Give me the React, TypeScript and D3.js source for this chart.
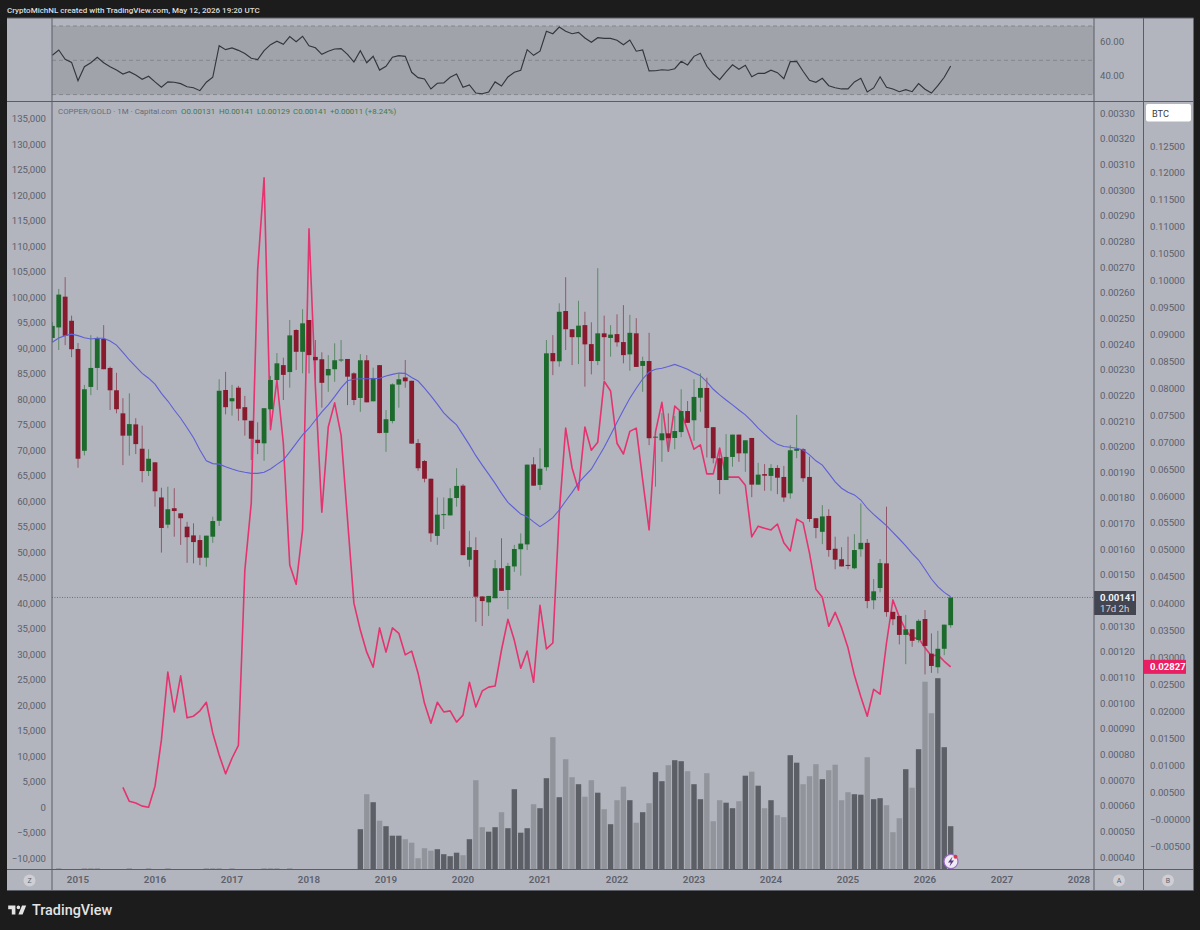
import * as d3 from "d3";

// Monthly bars, first one is Sep 2014 (month -4), month 0 is Jan 2015
const firstMonth = -4;

// COPPER/GOLD, ratio x 1e6
const open = [
  2424, 2465, 2585, 2491,
  2381, 1984, 2233, 2307, 2420, 2307, 2220, 2130, 2043, 2087, 1992, 1905,
  1939, 1802, 1696, 1760, 1740, 1688, 1654, 1636, 1567, 1649, 1711, 2221,
  2177, 2230, 2154, 2101, 2027, 2013, 2146, 2260, 2318, 2291, 2455, 2370,
  2494, 2350, 2341, 2278, 2302, 2336, 2342, 2286, 2190, 2337, 2177, 2318,
  2054, 2100, 2242, 2270, 2257, 2014, 1944, 1875, 1652, 1733, 1732, 1800,
  1848, 1559, 1597, 1416, 1393, 1409, 1526, 1441, 1533, 1600, 1619, 1931,
  1851, 1920, 2365, 2333, 2529, 2458, 2427, 2474, 2400, 2334, 2442, 2424,
  2439, 2408, 2360, 2442, 2315, 2334, 2035, 2025, 2052, 2034, 2057, 2139,
  2103, 2191, 2229, 2076, 1955, 1870, 1960, 2047, 1974, 2034, 1852, 1893,
  1886, 1917, 1882, 1818, 1984, 1990, 1882, 1721, 1668, 1730, 1602, 1561,
  1539, 1526, 1600, 1625, 1401, 1449, 1545, 1356, 1340, 1266, 1288, 1246,
  1328, 1193, 1140, 1212, 1304,
];
const close = [
  2471, 2593, 2432, 2380,
  1953, 2224, 2307, 2423, 2302, 2220, 2146, 2043, 2088, 2010, 1905, 1953,
  1826, 1683, 1756, 1749, 1721, 1647, 1628, 1567, 1653, 1710, 2218, 2154,
  2189, 2148, 2103, 2031, 2014, 2150, 2260, 2325, 2280, 2434, 2370, 2481,
  2357, 2337, 2249, 2303, 2337, 2340, 2273, 2182, 2337, 2173, 2268, 2053,
  2107, 2243, 2263, 2255, 2012, 1916, 1875, 1662, 1735, 1737, 1799, 1847,
  1577, 1608, 1415, 1398, 1418, 1526, 1438, 1535, 1601, 1622, 1930, 1848,
  1914, 2364, 2333, 2526, 2458, 2427, 2472, 2399, 2334, 2442, 2427, 2437,
  2407, 2357, 2444, 2311, 2334, 2033, 2039, 2052, 2033, 2061, 2139, 2093,
  2194, 2229, 2073, 1955, 1870, 1960, 2047, 1974, 2025, 1852, 1891, 1887,
  1917, 1879, 1802, 1986, 1992, 1877, 1718, 1683, 1728, 1597, 1559, 1533,
  1535, 1597, 1625, 1398, 1436, 1546, 1355, 1327, 1266, 1288, 1243, 1321,
  1223, 1145, 1212, 1306, 1412,
];
const high = [
  2486, 2615, 2661, 2511,
  2404, 2241, 2435, 2429, 2474, 2312, 2288, 2189, 2208, 2111, 2082, 1990,
  1939, 1840, 1844, 1838, 1740, 1707, 1701, 1655, 1653, 1727, 2263, 2292,
  2241, 2237, 2198, 2101, 2095, 2150, 2276, 2365, 2347, 2494, 2458, 2536,
  2494, 2416, 2368, 2357, 2403, 2416, 2342, 2290, 2361, 2357, 2308, 2318,
  2143, 2247, 2286, 2338, 2257, 2030, 1948, 1875, 1802, 1802, 1838, 1916,
  1854, 1672, 1647, 1416, 1418, 1558, 1643, 1547, 1617, 1662, 1930, 1959,
  1994, 2416, 2435, 2559, 2661, 2458, 2569, 2526, 2485, 2696, 2511, 2474,
  2516, 2552, 2514, 2501, 2351, 2444, 2046, 2131, 2130, 2120, 2224, 2178,
  2263, 2286, 2269, 2076, 1994, 2049, 2047, 2047, 2025, 2034, 1937, 1932,
  1932, 1928, 1925, 2007, 2124, 1994, 1961, 1721, 1772, 1756, 1649, 1608,
  1649, 1659, 1779, 1640, 1484, 1562, 1766, 1356, 1340, 1344, 1288, 1327,
  1363, 1272, 1282, 1306, 1412,
];
const low = [
  2408, 2377, 2396, 2349,
  1918, 1966, 2201, 2221, 2302, 2143, 2130, 1928, 1965, 1971, 1861, 1886,
  1766, 1587, 1682, 1649, 1617, 1547, 1545, 1538, 1532, 1625, 1691, 2126,
  2121, 2101, 2043, 1948, 1971, 1945, 2146, 2260, 2182, 2230, 2299, 2286,
  2286, 2260, 2152, 2214, 2253, 2330, 2162, 2162, 2136, 2173, 2177, 2052,
  1980, 2091, 2152, 2230, 2012, 1906, 1861, 1629, 1617, 1679, 1732, 1766,
  1577, 1532, 1317, 1301, 1340, 1409, 1438, 1366, 1512, 1497, 1597, 1848,
  1831, 1906, 2279, 2312, 2377, 2318, 2322, 2234, 2282, 2318, 2260, 2351,
  2390, 2325, 2296, 2311, 2214, 2006, 1844, 1941, 1984, 1990, 2037, 2093,
  2023, 2136, 1958, 1935, 1815, 1870, 1922, 1941, 1902, 1803, 1852, 1828,
  1828, 1815, 1785, 1797, 1955, 1863, 1707, 1643, 1620, 1571, 1522, 1533,
  1522, 1522, 1571, 1370, 1366, 1432, 1337, 1304, 1229, 1152, 1220, 1236,
  1112, 1118, 1116, 1187, 1294,
];

// moving average on the copper/gold scale
const movingAvg = [
  2407, 2424, 2433, 2439,
  2433, 2425, 2420, 2423, 2423, 2412, 2396, 2368, 2338, 2312, 2286, 2267,
  2244, 2208, 2178, 2143, 2111, 2074, 2035, 1987, 1945, 1934, 1932, 1922,
  1913, 1905, 1900, 1896, 1896, 1900, 1913, 1931, 1948, 1980, 2013, 2046,
  2072, 2104, 2136, 2163, 2195, 2229, 2257, 2263, 2265, 2265, 2265, 2267,
  2276, 2282, 2287, 2286, 2270, 2256, 2228, 2198, 2166, 2132, 2107, 2085,
  2046, 2007, 1965, 1928, 1893, 1857, 1818, 1783, 1760, 1737, 1727, 1707,
  1688, 1705, 1723, 1753, 1788, 1822, 1859, 1886, 1912, 1955, 1998, 2046,
  2095, 2143, 2189, 2228, 2264, 2291, 2302, 2306, 2313, 2321, 2312, 2302,
  2288, 2277, 2253, 2224, 2202, 2182, 2163, 2143, 2124, 2100, 2072, 2049,
  2026, 2009, 2001, 1998, 1994, 1987, 1968, 1945, 1928, 1896, 1863, 1838,
  1822, 1812, 1792, 1760, 1736, 1714, 1692, 1666, 1640, 1613, 1584, 1558,
  1522, 1484, 1454, 1432, 1415,
];

// BTC overlay, starts Aug 2015
const btcStartMonth = 7;
const btc = [
  0.0059, 0.0033, 0.003, 0.0024, 0.0022,
  0.0061, 0.0147, 0.0273, 0.0199, 0.0266, 0.0188, 0.0191, 0.0201, 0.0217, 0.016, 0.0119, 0.0084,
  0.0113, 0.0137, 0.0462, 0.0587, 0.102, 0.1191, 0.0723, 0.0815, 0.0698, 0.0472, 0.0436, 0.0537,
  0.1096, 0.0802, 0.057, 0.0728, 0.0773, 0.0713, 0.0557, 0.0401, 0.0351, 0.031, 0.0282, 0.0355,
  0.031, 0.0355, 0.0345, 0.0305, 0.0312, 0.0271, 0.0215, 0.0178, 0.0217, 0.0199, 0.0201, 0.018,
  0.0193, 0.0254, 0.0208, 0.0238, 0.0245, 0.0247, 0.0314, 0.0371, 0.0332, 0.028, 0.0312, 0.0254,
  0.0397, 0.0316, 0.0327, 0.0568, 0.0726, 0.0652, 0.0611, 0.0728, 0.0685, 0.07, 0.0813, 0.0795,
  0.0698, 0.0678, 0.072, 0.0726, 0.063, 0.0537, 0.0719, 0.0774, 0.0683, 0.0767, 0.0756, 0.0722,
  0.0687, 0.0695, 0.0641, 0.0641, 0.0689, 0.0635, 0.0635, 0.0635, 0.062, 0.0524, 0.0544, 0.054,
  0.0537, 0.0548, 0.0513, 0.0498, 0.0557, 0.055, 0.0494, 0.0427, 0.0412, 0.0358, 0.0384, 0.0355,
  0.0318, 0.0267, 0.0227, 0.0191, 0.0241, 0.0232, 0.0327, 0.0407, 0.0375, 0.0351, 0.0336, 0.0336,
  0.0318, 0.0303, 0.0305, 0.0293, 0.02827,
];

const rsi = [
  52.9, 56.0, 50.6, 48.8,
  38.1, 46.3, 48.6, 51.8, 48.6, 46.3, 44.3, 42.0, 43.4, 41.4, 38.9, 40.7,
  37.4, 34.3, 37.4, 37.2, 36.4, 34.6, 34.0, 32.3, 37.2, 40.1, 58.5, 56.2,
  57.2, 55.8, 53.9, 51.2, 50.4, 55.6, 59.1, 61.1, 59.3, 63.8, 60.8, 64.0,
  58.5, 57.3, 53.5, 55.3, 56.6, 56.8, 53.5, 49.0, 55.6, 48.6, 52.3, 44.3,
  46.5, 51.8, 52.7, 52.3, 43.0, 39.9, 39.1, 33.3, 36.6, 36.8, 40.1, 42.0,
  34.3, 35.6, 30.9, 30.5, 31.5, 37.4, 35.0, 40.3, 43.0, 44.2, 56.2, 52.9,
  55.3, 66.9, 65.5, 69.4, 66.9, 65.5, 66.3, 63.0, 60.5, 63.2, 62.8, 62.8,
  61.7, 59.1, 61.8, 55.3, 56.0, 43.8, 43.9, 44.5, 44.2, 45.1, 49.4, 47.3,
  52.3, 54.1, 46.5, 42.0, 38.7, 43.2, 47.4, 44.8, 47.1, 40.4, 42.4, 42.4,
  44.2, 42.8, 39.3, 49.2, 49.4, 43.6, 38.3, 37.2, 39.5, 35.2, 34.0, 33.3,
  33.3, 37.4, 39.5, 31.5, 33.9, 40.4, 34.3, 33.3, 31.7, 32.9, 31.7, 36.4,
  33.1, 30.9, 35.2, 40.1, 46.7,
];

// volume in arbitrary units, no axis on the chart
const volume = [
  0, 2, 0, 0,
  0, 2, 2, 2, 0, 0, 0, 0, 2, 0, 0, 2,
  0, 0, 2, 0, 0, 0, 0, 0, 2, 2, 2, 0,
  2, 0, 0, 0, 0, 2, 2, 2, 0, 2, 0, 0,
  0, 0, 0, 0, 0, 0, 0, 0, 81, 151, 135, 98,
  87, 68, 68, 61, 54, 23, 43, 38, 41, 31, 27, 34,
  29, 61, 179, 85, 76, 85, 115, 83, 161, 74, 83, 131,
  123, 183, 265, 145, 221, 185, 171, 146, 179, 154, 121, 91,
  139, 166, 139, 94, 115, 133, 195, 177, 209, 219, 217, 197,
  171, 141, 193, 97, 139, 134, 123, 137, 188, 196, 168, 123,
  139, 109, 105, 229, 214, 171, 187, 211, 181, 199, 210, 139,
  155, 151, 150, 225, 141, 143, 129, 75, 103, 201, 164, 241,
  376, 313, 383, 245, 87,
];

const leftTicks = d3.range(135000, -10001, -5000);
// 1400 sits under the last price tag, the reference does not show it
const cgTicks = d3.range(3300, 399, -100).filter((t) => t !== 1400);
const btcTicks = d3.range(0.125, -0.0051, -0.005);
const rsiTicks = [60, 40];
const rsiBands = [70, 50, 30];
const years = [2015, 2016, 2017, 2018, 2019, 2020, 2021, 2022, 2023, 2024, 2025, 2026, 2027, 2028];
const legendOhlc = ["O0.00131", "H0.00141", "L0.00129", "C0.00141", "+0.00011 (+8.24%)"];
const legendOhlcX = [181, 219, 257, 293, 330];

const lastClose = 1412;
const lastBtc = 0.02827;

const width = 1200;
const height = 930;
const font = "Roboto, sans-serif";
const axisColor = "#5d606b";
const borderColor = "#5a5d66";
const paneBg = "#b2b5be";

const pane = { left: 52, right: 1094, top: 102, bottom: 869 };

const x = d3.scaleLinear().domain([0, 156]).range([78, 1079]);
const yCg = d3.scaleLinear().domain([3300, 400]).range([113.3, 857]);
const yLeft = d3.scaleLinear().domain([135000, -10000]).range([118.5, 858]);
const yBtc = d3.scaleLinear().domain([0.125, -0.005]).range([146, 846]);
const yRsi = d3.scaleLinear().domain([70, 30]).range([26, 94.6]);
const yVol = d3.scaleLinear().domain([0, 384]).range([869.7, 677.7]);

const monthOf = (i: number) => i + firstMonth;

const maLine = d3
  .line<number>()
  .x((_, i) => x(monthOf(i)))
  .y((d) => yCg(d));
const btcLine = d3
  .line<number>()
  .x((_, i) => x(btcStartMonth + i))
  .y((d) => yBtc(d));
const rsiLine = d3
  .line<number>()
  .x((_, i) => x(monthOf(i)))
  .y((d) => yRsi(d));

const fmtLeft = (v: number) => (v < 0 ? "\u2212" : "") + d3.format(",")(Math.abs(v));
const fmtCg = (v: number) => (v / 1e6).toFixed(5);
const fmtBtc = (v: number) => (Math.abs(v) < 1e-6 ? "\u22120.00000" : v < 0 ? "\u2212" + Math.abs(v).toFixed(5) : v.toFixed(5));

const candleWidth = 4.8;
const barWidth = 5.4;

export default function App() {
  return (
    <svg
      width={width}
      height={height}
      viewBox={`0 0 ${width} ${height}`}
      style={{ position: "fixed", left: 0, top: 0, display: "block" }}
      fontFamily={font}
    >
      <defs>
        <clipPath id="mainClip">
          <rect x={pane.left} y={pane.top} width={pane.right - pane.left} height={pane.bottom - pane.top + 1} />
        </clipPath>
        <clipPath id="rsiClip">
          <rect x={pane.left} y={18} width={pane.right - pane.left} height={83} />
        </clipPath>
      </defs>

      <rect width={width} height={height} fill="#1c1c1c" />
      <text x={7} y={12.5} fontSize={8} fill="#dcdcdc" fontWeight={500}>
        CryptoMichNL created with TradingView.com, May 12, 2026 19:20 UTC
      </text>

      {/* chart panel */}
      <rect x={7} y={18} width={1186.5} height={872.5} fill={paneBg} />

      {/* RSI pane */}
      <rect x={pane.left} y={yRsi(70)} width={pane.right - pane.left} height={yRsi(30) - yRsi(70)} fill="#a1a3ab" />
      {rsiBands.map((b) => (
        <line key={b} x1={pane.left} x2={pane.right} y1={yRsi(b)} y2={yRsi(b)} stroke="#84868e" strokeDasharray="4 3" />
      ))}
      <path d={rsiLine(rsi) ?? ""} fill="none" stroke="#34363e" strokeWidth={1.15} clipPath="url(#rsiClip)" />
      {rsiTicks.map((t) => (
        <text key={t} x={1100} y={yRsi(t) + 2} fontSize={9.6} fill={axisColor}>
          {t.toFixed(2)}
        </text>
      ))}

      {/* main pane */}
      <g clipPath="url(#mainClip)">
        <line x1={pane.left} x2={pane.right} y1={yCg(lastClose)} y2={yCg(lastClose)} stroke="#5d606b" strokeWidth={0.8} strokeDasharray="1 1.5" />
        {volume.map((v, i) => (
          <rect
            key={i}
            x={x(monthOf(i)) - barWidth / 2}
            y={yVol(v)}
            width={barWidth}
            height={yVol(0) - yVol(v)}
            fill={close[i] >= open[i] ? "#5d5f67" : "#92949c"}
          />
        ))}
        <path d={btcLine(btc) ?? ""} fill="none" stroke="#e5336f" strokeWidth={1.6} strokeLinejoin="round" />
        {open.map((o, i) => {
          const up = close[i] >= o;
          const cx = x(monthOf(i));
          const top = yCg(Math.max(o, close[i]));
          const bottom = yCg(Math.min(o, close[i]));
          return (
            <g key={i}>
              <line x1={cx} x2={cx} y1={yCg(high[i])} y2={yCg(low[i])} stroke={up ? "#5c8a68" : "#92586a"} strokeWidth={1} />
              <rect x={cx - candleWidth / 2} y={top} width={candleWidth} height={Math.max(bottom - top, 1)} fill={up ? "#1c6a2c" : "#891a2e"} />
            </g>
          );
        })}
        <path d={maLine(movingAvg) ?? ""} fill="none" stroke="#5f5fd6" strokeWidth={1.1} />
      </g>

      {/* legend */}
      <text x={58} y={114} fontSize={7.9} fill="#696c77">
        COPPER/GOLD · 1M · Capital.com
      </text>
      {legendOhlc.map((t, i) => (
        <text key={t} x={legendOhlcX[i]} y={114} fontSize={7.9} fill="#3f7a4c">
          {t}
        </text>
      ))}

      {/* left axis */}
      {leftTicks.map((t) => (
        <text key={t} x={46} y={yLeft(t) + 3.5} fontSize={9.6} fill={axisColor} textAnchor="end">
          {fmtLeft(t)}
        </text>
      ))}

      {/* copper/gold axis */}
      {cgTicks.map((t) => (
        <text key={t} x={1100} y={yCg(t) + 3.5} fontSize={9.6} fill={axisColor}>
          {fmtCg(t)}
        </text>
      ))}
      <rect x={1094} y={591} width={42} height={24} fill="#434651" />
      <text x={1100} y={601} fontSize={9.6} fontWeight={700} fill="#f2f3f5">
        0.00141
      </text>
      <text x={1100} y={612} fontSize={9.6} fill="#d1d4dc">
        17d 2h
      </text>

      {/* BTC axis */}
      {btcTicks.map((t) => (
        <text key={t} x={1150} y={yBtc(t) + 3.5} fontSize={9.6} fill={axisColor}>
          {fmtBtc(t)}
        </text>
      ))}
      <rect x={1144} y={yBtc(lastBtc) - 7} width={42} height={14} fill="#e91e63" />
      <text x={1150} y={yBtc(lastBtc) + 3.5} fontSize={9.6} fontWeight={700} fill="#ffffff">
        {lastBtc.toFixed(5)}
      </text>
      <rect x={1146} y={104} width={45} height={17.5} rx={2} fill="#ffffff" />
      <text x={1152} y={116.5} fontSize={9.2} fill="#3a3c44">
        BTC
      </text>

      {/* time axis */}
      {years.map((y, i) => (
        <text key={y} x={x(i * 12)} y={883} fontSize={9.8} fontWeight={600} fill={axisColor} textAnchor="middle">
          {y}
        </text>
      ))}
      <circle cx={29.5} cy={880.5} r={6} fill="#cdcfd5" />
      <text x={29.5} y={883} fontSize={7} fill={axisColor} textAnchor="middle">
        Z
      </text>
      <circle cx={1119} cy={880.5} r={6} fill="#cdcfd5" />
      <text x={1119} y={883} fontSize={7} fill={axisColor} textAnchor="middle">
        A
      </text>
      <circle cx={1168} cy={880.5} r={6} fill="#cdcfd5" />
      <text x={1168} y={883} fontSize={7} fill={axisColor} textAnchor="middle">
        B
      </text>

      {/* pane borders */}
      <line x1={7} x2={1193.5} y1={18} y2={18} stroke={borderColor} />
      <line x1={7} x2={1193.5} y1={101.5} y2={101.5} stroke={borderColor} />
      <line x1={7} x2={1193.5} y1={869.5} y2={869.5} stroke={borderColor} />
      <line x1={7} x2={1193.5} y1={890.5} y2={890.5} stroke={borderColor} />
      <line x1={52} x2={52} y1={18} y2={890} stroke={borderColor} />
      <line x1={1094} x2={1094} y1={18} y2={890} stroke={borderColor} />
      <line x1={1143.5} x2={1143.5} y1={18} y2={890} stroke={borderColor} />

      {/* alert badge */}
      <circle cx={951} cy={861.5} r={7} fill="#efeaf4" stroke="#9a6cc6" strokeWidth={1.2} />
      <path d="M952.5 856.5 L948 862.5 L950.8 862.5 L949.5 866.5 L954 860.5 L951.2 860.5 Z" fill="#5a3d80" />
      <circle cx={955.5} cy={856.8} r={2} fill="#e0334f" />

      {/* logo */}
      <g transform="translate(7,902) scale(0.6)" fill="#e4e4e4">
        <path d="M14 6H2v6h6v9h6V6zm12 15h-7l6-15h7l-6 15zm-7-9a3 3 0 1 0 0-6 3 3 0 0 0 0 6z" />
      </g>
      <text x={32} y={915} fontSize={14.4} fontWeight={500} fill="#e4e4e4">
        TradingView
      </text>
    </svg>
  );
}
